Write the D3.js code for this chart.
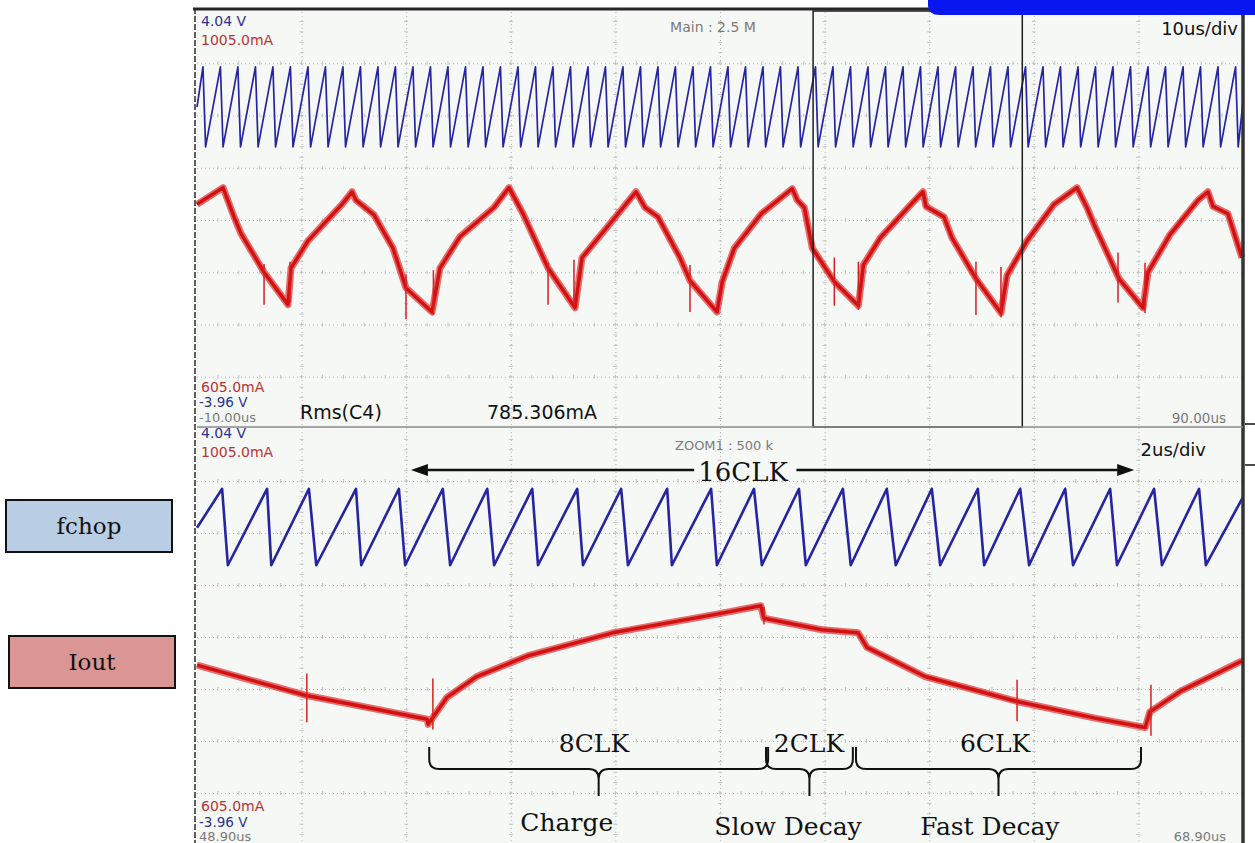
<!DOCTYPE html>
<html>
<head>
<meta charset="utf-8">
<script src="https://cdn.jsdelivr.net/npm/d3@7"></script>
<style>
  body { margin: 0; background: #fff; }
  svg { display: block; }
  .scope { font-family: "DejaVu Sans", sans-serif; }
  .note { font-family: "DejaVu Serif", serif; fill: #111; }
</style>
</head>
<body>
<div id="scope"></div>
<script>
// ---------- values ----------

// main window: -10us .. 90us, 10us/div
let mainRange = [-10, 90];
let mainTime = [-10.0, -7.51, -6.46, -5.79, -3.59, -1.30, -1.01, 0.61, 3.86, 4.82, 5.20, 6.92, 8.74, 9.98, 12.47,
    13.23, 15.14, 18.39, 19.83, 20.69, 21.17, 23.56, 26.14, 26.81, 29.77, 31.97, 32.83, 34.07, 36.17, 37.13, 39.71,
    40.22, 41.37, 43.95, 46.91, 47.39, 48.06, 48.83, 50.93, 53.23, 53.71, 55.33, 58.26, 59.41, 59.69, 61.41, 62.18,
    64.47, 66.86, 67.44, 69.35, 71.93, 74.13, 75.08, 75.75, 78.14, 80.44, 80.92, 83.02, 85.70, 86.65, 87.13, 88.56, 89.90];
let mainIout = [820, 836, 808, 792, 755, 724, 759, 785, 820, 832, 824, 810, 778, 740, 717,
    759, 789, 817, 836, 820, 811, 759, 721, 769, 805, 832, 817, 808, 769, 747, 717,
    746, 778, 811, 835, 824, 817, 778, 746, 723, 762, 788, 820, 832, 818, 808, 788,
    749, 716, 752, 785, 820, 836, 817, 801, 749, 721, 755, 791, 824, 832, 818, 811, 769];

let mainSpikeTime = [-3.59, -1.11, 9.98, 12.6, 23.56, 26.04, 37.13, 50.93, 53.23, 64.47, 66.86, 78.05, 80.63];
let mainSpikeLow  = [724, 726, 710, 714, 724, 724, 717, 723, 719, 714, 712, 726, 716];
let mainSpikeHigh = [763, 765, 753, 757, 764, 767, 762, 769, 765, 765, 760, 774, 764];

let mainChopPeak = [-9.43, -7.76, -6.09, -4.41, -2.74, -1.07, 0.61, 2.28, 3.95, 5.63,
    7.30, 8.97, 10.65, 12.32, 13.99, 15.67, 17.34, 19.01, 20.69, 22.36,
    24.03, 25.71, 27.38, 29.05, 30.72, 32.40, 34.07, 35.74, 37.42, 39.09,
    40.76, 42.44, 44.11, 45.78, 47.46, 49.13, 50.80, 52.48, 54.15, 55.82,
    57.50, 59.17, 60.84, 62.52, 64.19, 65.86, 67.53, 69.21, 70.88, 72.55,
    74.23, 75.90, 77.57, 79.25, 80.92, 82.59, 84.27, 85.94, 87.61, 89.29];
let mainChopHigh = 2.97, mainChopLow = 1.44, mainChopFall = 0.25;

// zoom window: 48.9us .. 68.9us, 2us/div
let zoomRange = [48.9, 68.9];
let zoomTime = [48.90, 50.97, 53.30, 53.32, 53.68, 54.25, 55.23, 56.85, 58.84, 59.68, 59.74, 60.85, 61.54,
    61.71, 62.82, 64.58, 66.07, 67.03, 67.12, 67.71, 68.84, 68.90];
let zoomIout = [778, 749, 726, 721, 747, 767, 787, 809, 827, 835, 823, 812, 809,
    795, 767, 743, 727, 718, 733, 753, 781, 782];

let zoomSpikeTime = [51.0, 53.41, 59.74, 64.58, 67.14];
let zoomSpikeLow  = [723, 716, 817, 724, 710];
let zoomSpikeHigh = [770, 765, 834, 764, 759];

let zoomChopPeak = [49.38, 50.24, 51.04, 51.94, 52.76, 53.60, 54.45, 55.31, 56.17, 57.01, 57.89, 58.73,
    59.55, 60.41, 61.25, 62.09, 62.95, 63.83, 64.64, 65.50, 66.36, 67.20, 68.06];
let zoomChopTrough = [49.49, 50.32, 51.18, 52.04, 52.88, 53.74, 54.58, 55.42, 56.28, 57.14, 57.98, 58.84,
    59.70, 60.54, 61.40, 62.26, 63.11, 63.95, 64.81, 65.65, 66.49, 67.35, 68.19];
let zoomChopHigh = 2.89, zoomChopLow = 1.42, zoomChopStart = 2.14, zoomChopEnd = 2.73;

// chopping phases (zoom window)
let clkSpan = [52.99, 66.82];
let phaseClk = ["8CLK", "2CLK", "6CLK"];
let phaseName = ["Charge", "Slow Decay", "Fast Decay"];
let phaseFrom = [53.34, 59.78, 61.50];
let phaseTo = [59.82, 61.44, 66.95];
let phaseClkAt = [56.49, 60.60, 64.16];
let phaseNameAt = [55.97, 60.20, 64.06];

// ---------- layout ----------
let svgWidth = 1255;
let svgHeight = 843;
let screenLeft = 197, screenRight = 1243;
let mainTop = 11, mainBottom = 429;
let zoomTop = 429, zoomBottom = 845;

let svg = d3.select("#scope").append("svg")
    .attr("width", svgWidth)
    .attr("height", svgHeight)
    .attr("class", "scope");

svg.append("rect")
    .attr("x", screenLeft).attr("y", mainTop)
    .attr("width", screenRight - screenLeft).attr("height", zoomBottom - mainTop)
    .attr("fill", "#f6f8f6");

function makeScales(range, top, bottom) {
    return {
        x: d3.scaleLinear().domain(range).range([screenLeft, screenRight]),
        amp: d3.scaleLinear().domain([605, 1005]).range([bottom, top]),
        volt: d3.scaleLinear().domain([-3.96, 4.04]).range([bottom, top]),
        div: d3.scaleLinear().domain([-4, 4]).range([bottom, top]),
        top: top,
        bottom: bottom
    };
}

let mainS = makeScales(mainRange, mainTop, mainBottom);
let zoomS = makeScales(zoomRange, zoomTop, zoomBottom);

function drawGrid(s) {
    let span = s.x.domain()[1] - s.x.domain()[0];
    let step = span / 10;
    let xTicks = d3.range(1, 10).map(k => s.x.domain()[0] + k * step);
    let yTicks = [-3, -2, -1, 0, 1, 2, 3];
    let grid = svg.append("g");

    grid.append("g")
        .attr("transform", `translate(0, ${s.bottom})`)
        .call(d3.axisBottom(s.x).tickValues(xTicks).tickSize(-(s.bottom - s.top)).tickFormat(""));
    grid.append("g")
        .attr("transform", `translate(${screenLeft}, 0)`)
        .call(d3.axisLeft(s.div).tickValues(yTicks).tickSize(-(screenRight - screenLeft)).tickFormat(""));
    grid.selectAll(".domain").remove();
    grid.selectAll(".tick line")
        .attr("stroke", "#b4b4b4")
        .attr("stroke-dasharray", "1,3");

    // small crosses every fifth of a division
    let minorX = d3.range(1, 50).map(k => s.x.domain()[0] + k * step / 5);
    let minorY = d3.range(1, 40).map(k => -4 + k * 0.2);
    yTicks.forEach(v => {
        grid.selectAll(null).data(minorX).enter().append("line")
            .attr("x1", d => s.x(d)).attr("x2", d => s.x(d))
            .attr("y1", s.div(v) - 2).attr("y2", s.div(v) + 2)
            .attr("stroke", "#c2c2c2");
    });
    xTicks.forEach(v => {
        grid.selectAll(null).data(minorY).enter().append("line")
            .attr("x1", s.x(v) - 2).attr("x2", s.x(v) + 2)
            .attr("y1", d => s.div(d)).attr("y2", d => s.div(d))
            .attr("stroke", "#c2c2c2");
    });
}

drawGrid(mainS);
drawGrid(zoomS);

// ---------- traces ----------
function chopPoints(peaks, troughs, high, low, start, end, range) {
    let pts = [[range[0], start]];
    peaks.forEach((p, i) => {
        pts.push([p, high]);
        pts.push([troughs[i], low]);
    });
    pts.push([range[1], end]);
    return pts;
}

let mainChopTrough = mainChopPeak.map(p => p + mainChopFall);
let mainChop = chopPoints(mainChopPeak, mainChopTrough, mainChopHigh, mainChopLow, 2.2, 2.3, mainRange)
    .filter(d => d[0] <= mainRange[1]);
let zoomChop = chopPoints(zoomChopPeak, zoomChopTrough, zoomChopHigh, zoomChopLow, zoomChopStart, zoomChopEnd, zoomRange);

function drawChop(s, pts, width) {
    let line = d3.line().x(d => s.x(d[0])).y(d => s.volt(d[1]));
    svg.append("path")
        .datum(pts)
        .attr("d", line)
        .attr("fill", "none")
        .attr("stroke", "#2424a4")
        .attr("stroke-width", width)
        .attr("stroke-linejoin", "round");
}

function drawIout(s, times, values, spikeT, spikeLo, spikeHi, width) {
    let pts = times.map((t, i) => [t, values[i]]);
    let line = d3.line().x(d => s.x(d[0])).y(d => s.amp(d[1]));
    svg.append("path")
        .datum(pts)
        .attr("d", line)
        .attr("fill", "none")
        .attr("stroke", "#e23030")
        .attr("stroke-opacity", 0.7)
        .attr("stroke-width", width + 2.5)
        .attr("stroke-linejoin", "round");
    svg.append("path")
        .datum(pts)
        .attr("d", line)
        .attr("fill", "none")
        .attr("stroke", "#d01212")
        .attr("stroke-width", width - 1)
        .attr("stroke-linejoin", "round");
    svg.selectAll(null)
        .data(spikeT)
        .enter()
        .append("line")
        .attr("x1", d => s.x(d)).attr("x2", d => s.x(d))
        .attr("y1", (d, i) => s.amp(spikeLo[i]))
        .attr("y2", (d, i) => s.amp(spikeHi[i]))
        .attr("stroke", "#d42020")
        .attr("stroke-width", 1.5);
}

drawChop(mainS, mainChop, 1.7);
drawIout(mainS, mainTime, mainIout, mainSpikeTime, mainSpikeLow, mainSpikeHigh, 4.5);
drawChop(zoomS, zoomChop, 2.6);
drawIout(zoomS, zoomTime, zoomIout, zoomSpikeTime, zoomSpikeLow, zoomSpikeHigh, 4.5);

// zoom window marker in the main view
svg.append("rect")
    .attr("x", mainS.x(zoomRange[0]))
    .attr("y", mainTop)
    .attr("width", mainS.x(zoomRange[1]) - mainS.x(zoomRange[0]))
    .attr("height", mainBottom - mainTop - 2)
    .attr("fill", "none")
    .attr("stroke", "#1e1e1e")
    .attr("stroke-width", 1.5);

// ---------- frame ----------
svg.append("line")
    .attr("x1", screenLeft - 2).attr("x2", screenLeft - 2)
    .attr("y1", 8).attr("y2", svgHeight)
    .attr("stroke", "#5e5e5e").attr("stroke-width", 2)
    .attr("stroke-dasharray", "6,2");
svg.append("line")
    .attr("x1", screenLeft - 4).attr("x2", screenRight + 2)
    .attr("y1", 9).attr("y2", 9)
    .attr("stroke", "#262626").attr("stroke-width", 3);
svg.append("line")
    .attr("x1", screenRight).attr("x2", screenRight)
    .attr("y1", 8).attr("y2", svgHeight)
    .attr("stroke", "#333").attr("stroke-width", 3.5);
svg.append("line")
    .attr("x1", screenLeft).attr("x2", screenRight)
    .attr("y1", mainBottom - 2).attr("y2", mainBottom - 2)
    .attr("stroke", "#8a8a8a").attr("stroke-width", 1.5);
[424, 465].forEach(y => {
    svg.append("line")
        .attr("x1", screenRight + 2).attr("x2", svgWidth)
        .attr("y1", y).attr("y2", y)
        .attr("stroke", "#111").attr("stroke-width", 1.5);
});

// blue title strip, top right
svg.append("path")
    .attr("d", "M928,0 H1255 V15 H940 Q928,15 928,5 Z")
    .attr("fill", "#0a16ef");

// ---------- scope readouts ----------
function label(x, y, text, size, color, anchor) {
    return svg.append("text")
        .attr("x", x).attr("y", y)
        .attr("font-size", size)
        .attr("fill", color)
        .attr("text-anchor", anchor || "start")
        .text(text);
}

let navy = "#2c3290", dred = "#b83333", grey = "#7a7a7a";
label(201, 26, "4.04 V", 14, navy);
label(201, 45, "1005.0mA", 14, dred);
label(713, 32, "Main : 2.5 M", 14, grey, "middle");
label(1238, 35, "10us/div", 18, "#111", "end");
label(201, 392, "605.0mA", 14, dred);
label(199, 407, "-3.96 V", 13.5, navy);
label(199, 422, "-10.00us", 13, grey);
label(300, 419, "Rms(C4)", 19, "#111");
label(487, 419, "785.306mA", 19, "#111");
label(1226, 423, "90.00us", 13.5, grey, "end");

label(201, 438, "4.04 V", 14, navy);
label(201, 457, "1005.0mA", 14, dred);
label(675, 450, "ZOOM1 : 500 k", 13, grey);
label(1206, 456, "2us/div", 18, "#111", "end");
label(201, 811, "605.0mA", 14, dred);
label(199, 827, "-3.96 V", 13.5, navy);
label(199, 841, "48.90us", 13, grey);
label(1226, 841, "68.90us", 13, grey, "end");

// ---------- annotations ----------
let notes = svg.append("g").attr("class", "note");

let arrowY = zoomS.div(3.21);
let clkText = notes.append("text")
    .attr("x", zoomS.x(59.34))
    .attr("y", zoomS.div(3.0))
    .attr("font-size", 26)
    .attr("text-anchor", "middle")
    .text("16CLK");
let bb = clkText.node().getBBox();
let xa = zoomS.x(clkSpan[0]), xb = zoomS.x(clkSpan[1]);
notes.append("line")
    .attr("x1", xa + 14).attr("x2", bb.x - 4)
    .attr("y1", arrowY).attr("y2", arrowY)
    .attr("stroke", "#111").attr("stroke-width", 2.5);
notes.append("line")
    .attr("x1", bb.x + bb.width + 8).attr("x2", xb - 14)
    .attr("y1", arrowY).attr("y2", arrowY)
    .attr("stroke", "#111").attr("stroke-width", 2.5);
notes.append("path")
    .attr("d", `M${xa},${arrowY} L${xa + 17},${arrowY - 6} L${xa + 17},${arrowY + 6} Z`)
    .attr("fill", "#111");
notes.append("path")
    .attr("d", `M${xb},${arrowY} L${xb - 17},${arrowY - 6} L${xb - 17},${arrowY + 6} Z`)
    .attr("fill", "#111");

function bracePath(x0, x1, yTop, yMid, yTip) {
    let xm = (x0 + x1) / 2;
    let r = Math.min(10, (x1 - x0) / 8);
    let p = d3.path();
    p.moveTo(x0, yTop);
    p.lineTo(x0, yMid - r);
    p.quadraticCurveTo(x0, yMid, x0 + r, yMid);
    p.lineTo(xm - r, yMid);
    p.quadraticCurveTo(xm, yMid, xm, yMid + r);
    p.lineTo(xm, yTip);
    p.moveTo(xm, yMid + r);
    p.quadraticCurveTo(xm, yMid, xm + r, yMid);
    p.lineTo(x1 - r, yMid);
    p.quadraticCurveTo(x1, yMid, x1, yMid - r);
    p.lineTo(x1, yTop);
    return p.toString();
}

phaseClk.forEach((c, i) => {
    notes.append("path")
        .attr("d", bracePath(zoomS.x(phaseFrom[i]), zoomS.x(phaseTo[i]),
            zoomS.div(-2.115), zoomS.div(-2.54), zoomS.div(-3.06)))
        .attr("fill", "none")
        .attr("stroke", "#111")
        .attr("stroke-width", 2);
    notes.append("text")
        .attr("x", zoomS.x(phaseClkAt[i]))
        .attr("y", zoomS.div(-2.21))
        .attr("font-size", 25)
        .attr("text-anchor", "middle")
        .text(c);
    notes.append("text")
        .attr("x", zoomS.x(phaseNameAt[i]))
        .attr("y", zoomS.div(i === 0 ? -3.73 : -3.81))
        .attr("font-size", 25)
        .attr("text-anchor", "middle")
        .text(phaseName[i]);
});

// ---------- trace legend boxes ----------
let legend = [
    { name: "fchop", fill: "#b9cde4", x: 6, y: 500 },
    { name: "Iout", fill: "#d99694", x: 9, y: 636 }
];
legend.forEach(d => {
    notes.append("rect")
        .attr("x", d.x).attr("y", d.y)
        .attr("width", 166).attr("height", 52)
        .attr("fill", d.fill)
        .attr("stroke", "#111")
        .attr("stroke-width", 2);
    notes.append("text")
        .attr("x", d.x + 83).attr("y", d.y + 34)
        .attr("font-size", 23)
        .attr("text-anchor", "middle")
        .text(d.name);
});
</script>
</body>
</html>
